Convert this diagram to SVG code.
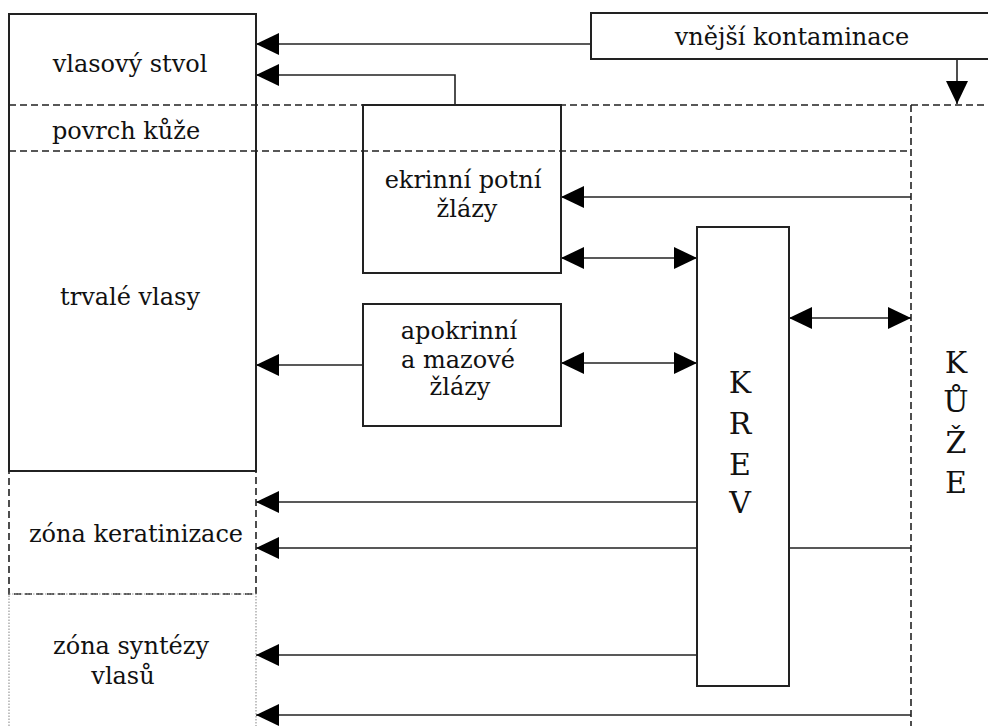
<svg xmlns="http://www.w3.org/2000/svg" width="988" height="726" viewBox="0 0 988 726">
<style>
  .t { font-family: "DejaVu Serif", "Liberation Serif", serif; font-size: 24px; fill: #111; text-anchor: middle; }
  .big { font-family: "DejaVu Serif", "Liberation Serif", serif; font-size: 30px; fill: #111; text-anchor: middle; }
  .box { fill: none; stroke: #222; stroke-width: 2; }
  .dash { fill: none; stroke: #222; stroke-width: 1.6; stroke-dasharray: 7 4; }
  .dot { fill: none; stroke: #999; stroke-width: 1.2; stroke-dasharray: 1.5 1.5; }
  .ln { fill: none; stroke: #222; stroke-width: 1.6; }
</style>
<defs>
  <marker id="ah" markerUnits="userSpaceOnUse" markerWidth="24" markerHeight="24" refX="23" refY="11" orient="auto-start-reverse">
    <path d="M0,0 L23,11 L0,22 z" fill="#000"/>
  </marker>
</defs>
<rect width="988" height="726" fill="#fff"/>

<g id="skin-layers">
  <line class="dash" x1="9" y1="105" x2="988" y2="105"/>
  <line class="dash" x1="9" y1="151" x2="911" y2="151"/>
  <line class="dash" x1="911" y1="105" x2="911" y2="726"/>
</g>

<g id="connectors">
  <line class="ln" x1="591" y1="44" x2="256" y2="44" marker-end="url(#ah)"/>
  <polyline class="ln" points="455,105 455,75 256,75" marker-end="url(#ah)"/>
  <line class="ln" x1="957" y1="59" x2="957" y2="104" marker-end="url(#ah)"/>
  <line class="ln" x1="911" y1="197" x2="561" y2="197" marker-end="url(#ah)"/>
  <line class="ln" x1="561" y1="258" x2="697" y2="258" marker-start="url(#ah)" marker-end="url(#ah)"/>
  <line class="ln" x1="561" y1="363" x2="697" y2="363" marker-start="url(#ah)" marker-end="url(#ah)"/>
  <line class="ln" x1="789" y1="318" x2="911" y2="318" marker-start="url(#ah)" marker-end="url(#ah)"/>
  <line class="ln" x1="363" y1="365" x2="256" y2="365" marker-end="url(#ah)"/>
  <line class="ln" x1="697" y1="502" x2="256" y2="502" marker-end="url(#ah)"/>
  <path class="ln" d="M911,548 H789 M697,548 H256" marker-end="url(#ah)"/>
  <line class="ln" x1="697" y1="655" x2="256" y2="655" marker-end="url(#ah)"/>
  <line class="ln" x1="911" y1="715" x2="256" y2="715" marker-end="url(#ah)"/>
</g>

<g id="hair-column">
  <rect class="box" x="9" y="14" width="247" height="457"/>
  <text class="t" x="130" y="72">vlasový stvol</text>
  <text class="t" x="126" y="139">povrch kůže</text>
  <text class="t" x="130" y="305">trvalé vlasy</text>
</g>

<g id="zona-keratinizace">
  <rect class="dash" x="9" y="471" width="247" height="123"/>
  <text class="t" x="136" y="542">zóna keratinizace</text>
</g>

<g id="zona-syntezy">
  <rect class="dot" x="9" y="594" width="247" height="140"/>
  <text class="t" x="131" y="654">zóna syntézy</text>
  <text class="t" x="123" y="684">vlasů</text>
</g>

<g id="vnejsi-kontaminace">
  <rect class="box" x="591" y="13" width="405" height="46" fill="#fff"/>
  <text class="t" x="792" y="45">vnější kontaminace</text>
</g>

<g id="ekrinni">
  <rect class="box" x="363" y="105" width="198" height="168"/>
  <text class="t" x="463" y="188">ekrinní potní</text>
  <text class="t" x="467" y="217">žlázy</text>
</g>

<g id="apokrinni">
  <rect class="box" x="363" y="304" width="198" height="122"/>
  <text class="t" x="459" y="339">apokrinní</text>
  <text class="t" x="458" y="368">a mazové</text>
  <text class="t" x="460" y="395">žlázy</text>
</g>

<g id="krev">
  <rect class="box" x="697" y="227" width="92" height="459"/>
  <text class="big" x="740" y="393">K</text>
  <text class="big" x="740" y="434">R</text>
  <text class="big" x="740" y="475">E</text>
  <text class="big" x="740" y="513">V</text>
</g>

<g id="kuze">
  <text class="big" x="956" y="373">K</text>
  <text class="big" x="956" y="412">Ů</text>
  <text class="big" x="956" y="453">Ž</text>
  <text class="big" x="956" y="493">E</text>
</g>
</svg>
